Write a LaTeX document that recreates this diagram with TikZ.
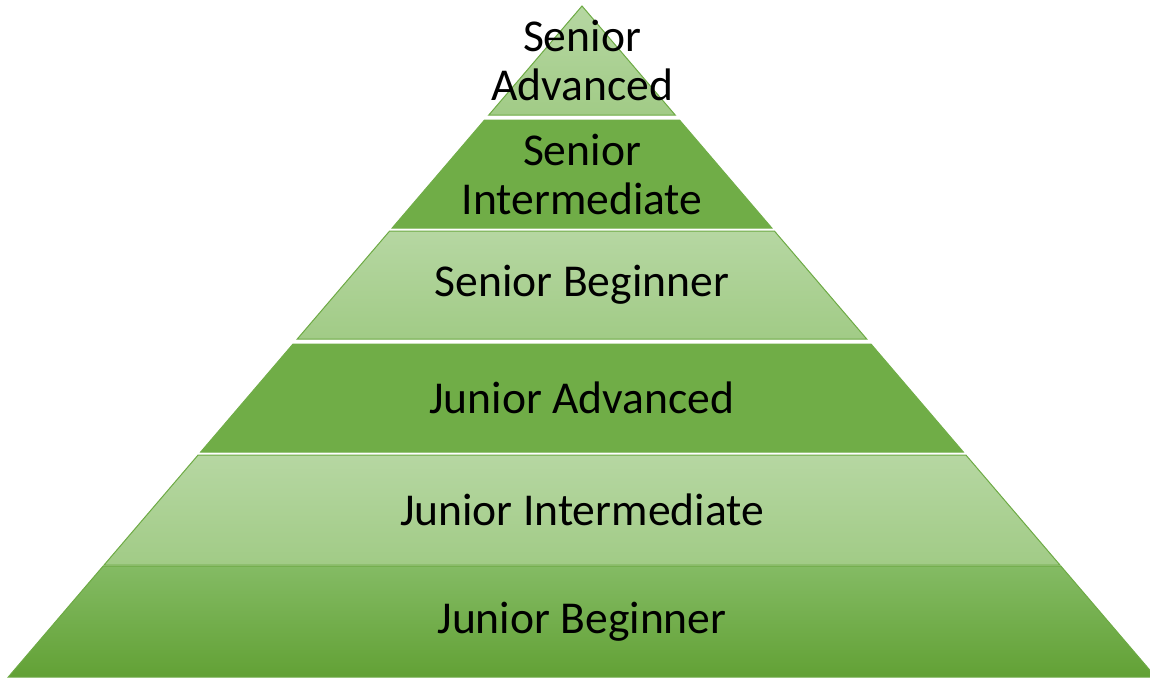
\documentclass[tikz,border=0pt]{standalone}
\usepackage{fontspec}
\setmainfont{Carlito}
\definecolor{darkgreen}{HTML}{70AD47}
\definecolor{lighttop}{HTML}{B6D7A2}
\definecolor{lightbot}{HTML}{A1CB86}
\definecolor{basetop}{HTML}{84BB64}
\definecolor{basebot}{HTML}{62A135}
\definecolor{rimgreen}{HTML}{6DAA44}
\tikzset{x=0.5pt, y=0.5pt,
    darklayer/.style={
        fill=darkgreen,
        draw=darkgreen,
        line width=0.5pt},
    lightlayer/.style={
        top color=lighttop,
        bottom color=lightbot,
        draw=rimgreen,
        line width=0.5pt},
    baselayer/.style={
        top color=basetop,
        bottom color=basebot,
        draw=rimgreen,
        line width=0.5pt},
    layertext/.style={
        font=\fontsize{22.8}{24.5}\selectfont,
        align=center,
        text=black}}

\begin{document}
\begin{tikzpicture}
        \clip (0,0) rectangle (1150,677);

        % layers, top to bottom: top edge, bottom edge (picture rows), style, name, text
        \foreach \t/\b/\s/\n/\txt in {
                6/115/lightlayer/sadv/{Senior\\Advanced},
                120/228/darklayer/sint/{Senior\\Intermediate},
                231/339/lightlayer/sbeg/{Senior Beginner},
                344/452/darklayer/jadv/{Junior Advanced},
                455/565/lightlayer/jint/{Junior Intermediate},
                566/677/baselayer/jbeg/{Junior Beginner}} {
            \pgfmathsetmacro\wt{0.855*(\t-6)}
            \pgfmathsetmacro\wb{0.855*(\b-6)}
            \draw[\s] (582-\wt,677-\t) -- (582+\wt,677-\t)
                -- (582+\wb,677-\b) -- (582-\wb,677-\b) -- cycle;
            \node[layertext] (\n) at (582,677-\t/2-\b/2) {\txt};
        }
    \end{tikzpicture}
\end{document}
